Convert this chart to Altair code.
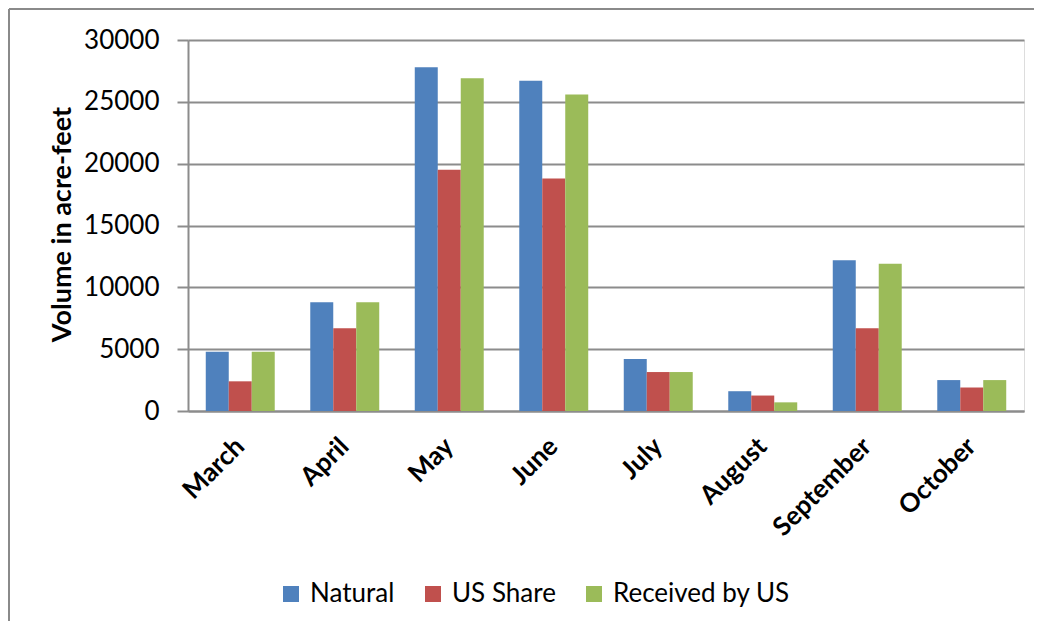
import altair as alt
import pandas as pd

months = ["March", "April", "May", "June", "July", "August", "September", "October"]
series = ["Natural", "US Share", "Received by US"]
natural = [4800, 8800, 27800, 26700, 4200, 1600, 12200, 2500]
us_share = [2400, 6700, 19500, 18800, 3150, 1250, 6700, 1900]
received = [4800, 8800, 26900, 25600, 3150, 700, 11900, 2500]
colors = ["#4F81BD", "#C0504D", "#9BBB59"]
y_ticks = [0, 5000, 10000, 15000, 20000, 25000, 30000]

rows = []
for i, m in enumerate(months):
    for s, vals in zip(series, [natural, us_share, received]):
        rows.append({"month": m, "series": s, "value": vals[i]})
df = pd.DataFrame(rows)

FONT = "Lato"
GRID = "#8c8c8c"

bars = alt.Chart(df).mark_bar().encode(
    x=alt.X("month:N", sort=months,
            scale=alt.Scale(paddingInner=0.34, paddingOuter=0.17),
            axis=alt.Axis(title=None, labelAngle=-45, labelAlign="right",
                          labelBaseline="middle", labelPadding=31,
                          labelFont=FONT, labelFontWeight="bold",
                          labelFontSize=26, labelColor="#000",
                          ticks=False, domainColor=GRID, domainWidth=2)),
    xOffset=alt.XOffset("series:N", sort=series, scale=alt.Scale(paddingInner=0, paddingOuter=0)),
    y=alt.Y("value:Q", scale=alt.Scale(domain=[0, 30000]),
            axis=alt.Axis(title="Volume in acre-feet", values=y_ticks, format="d",
                          labelFont=FONT, labelFontSize=26, labelColor="#000",
                          labelPadding=18, tickSize=11, tickColor=GRID, tickWidth=2,
                          domainColor=GRID, domainWidth=2,
                          gridColor=GRID, gridWidth=2,
                          titleFont=FONT, titleFontSize=27, titleFontWeight="bold",
                          titleColor="#000", titleX=-126, titleY=184,
                          titleBaseline="middle", titleAngle=270)),
    color=alt.Color("series:N", sort=series,
                    scale=alt.Scale(domain=series, range=colors),
                    legend=alt.Legend(title=None, orient="none", legendX=90, legendY=541,
                                      direction="horizontal", columns=3,
                                      symbolType="square", symbolSize=256,
                                      symbolStrokeWidth=0, symbolOpacity=1,
                                      labelFont=FONT, labelFontSize=26, labelLimit=400,
                                      labelColor="#000", labelOffset=6,
                                      columnPadding=25)),
)

frame_df = pd.DataFrame({"k": [0]})
frame_top = alt.Chart(frame_df).mark_rule(color="#8a8a8a", strokeWidth=2).encode(
    x=alt.value(-179), x2=alt.value(870), y=alt.value(-31))
frame_left = alt.Chart(frame_df).mark_rule(color="#8a8a8a", strokeWidth=2).encode(
    x=alt.value(-179), y=alt.value(-31), y2=alt.value(620))

chart = alt.layer(bars, frame_top, frame_left).properties(
    width=836, height=371,
    autosize=alt.AutoSizeParams(type="none"),
    padding={"left": 180, "top": 32, "right": 10, "bottom": 210},
).configure_view(stroke=None).configure(background="white")

chart.save("out.html", embed_options={"renderer": "svg", "actions": False})
